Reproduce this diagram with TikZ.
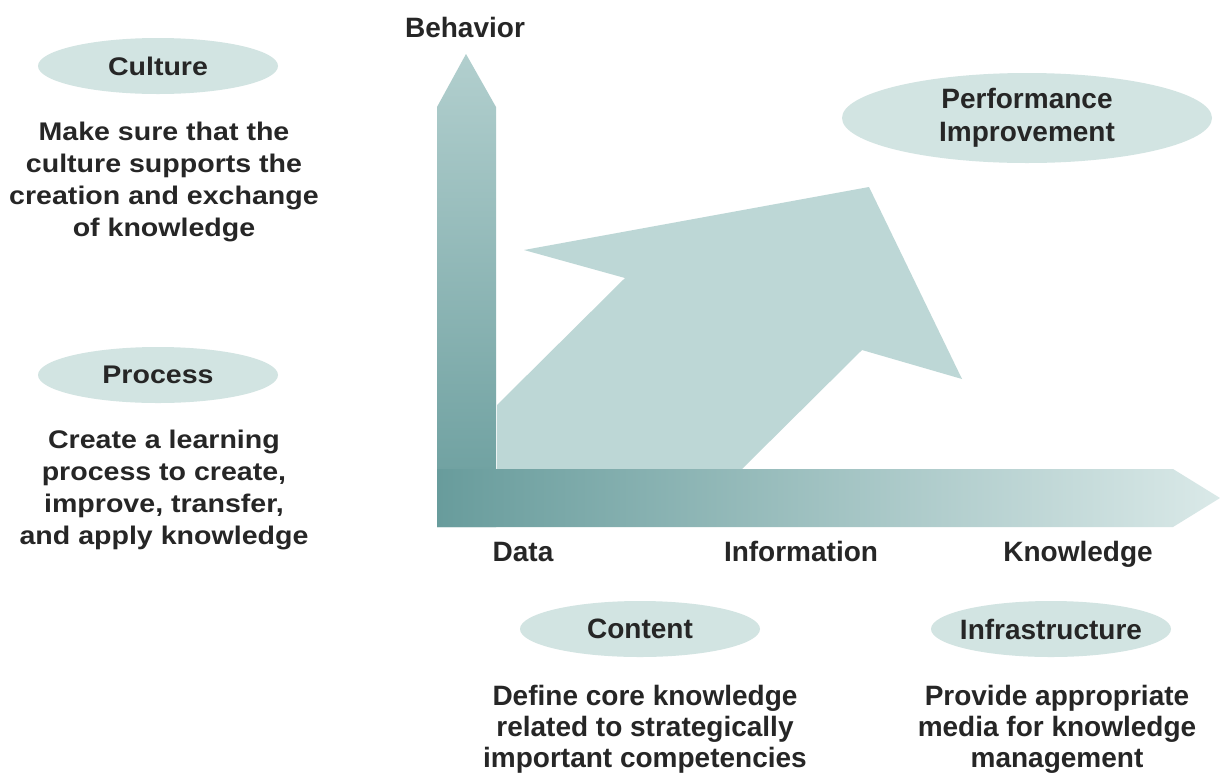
\documentclass[tikz,border=0pt]{standalone}
\usepackage{fontspec}
\setmainfont{Liberation Sans}
\newfontfamily\widefont{Liberation Sans}[FakeStretch=1.12]
\usetikzlibrary{shapes.geometric}

\definecolor{ink}{HTML}{262626}
\definecolor{bubble}{HTML}{D2E4E2}
\definecolor{arrowfill}{HTML}{BDD7D6}
\definecolor{axisdark}{HTML}{689C9C}
\definecolor{axismid}{HTML}{A9C9C8}
\definecolor{axislight}{HTML}{DAE9E8}
\definecolor{axistop}{HTML}{B2CFCE}

\begin{document}
\begin{tikzpicture}[x=1pt,y=-1pt,
  every node/.style={text=ink, font=\bfseries\fontsize{28}{31}\selectfont},
  widetext/.style={font=\widefont\bfseries\fontsize{25.5}{32}\selectfont},
  bubblenode/.style={ellipse, fill=bubble, inner sep=0pt, minimum width=240pt, minimum height=56pt},
  bodytext/.style={align=center, inner sep=0pt},
  axislabel/.style={inner sep=0pt, anchor=base}]

\useasboundingbox (0,0) rectangle (1221,772);
\fill[white] (0,0) rectangle (1221,772);

% rising arrow between the two axes
\fill[arrowfill] (497,405) -- (625,278) -- (524,250) -- (869,187)
  -- (962,379) -- (862,350) -- (742,469) -- (497,469) -- cycle;

% vertical axis
\shade[top color=axistop, middle color=axistop!85!axisdark, bottom color=axisdark]
  (437,527) -- (437,107) -- (466,54) -- (496,107) -- (496,527) -- cycle;

% horizontal axis
\shade[left color=axisdark, middle color=axismid, right color=axislight]
  (437,469) -- (1173,469) -- (1220,498) -- (1173,527) -- (437,527) -- cycle;

% axis labels
\node[axislabel] (behavior) at (465,37) {Behavior};
\node[axislabel] (data) at (523,561) {Data};
\node[axislabel] (information) at (801,561) {Information};
\node[axislabel] (knowledge) at (1078,561) {Knowledge};

% goal bubble
\node[bubblenode, minimum width=370pt, minimum height=90pt, align=center,
  font=\bfseries\fontsize{28}{33}\selectfont] (perf) at (1027,118)
  {Performance\\Improvement};

% the four building blocks
\node[bubblenode, label={[widetext]center:Culture}] (culture) at (158,66) {};
\node[bodytext, widetext] (culturetext) at (164,182)
  {Make sure that the\\culture supports the\\creation and exchange\\of knowledge};

\node[bubblenode, label={[widetext]center:Process}] (process) at (158,375) {};
\node[bodytext, widetext] (processtext) at (164,490)
  {Create a learning\\process to create,\\improve, transfer,\\and apply knowledge};

\node[bubblenode, label={center:Content}] (content) at (640,629) {};
\node[bodytext] (contenttext) at (645,729)
  {Define core knowledge\\related to strategically\\important competencies};

\node[bubblenode, label={center:Infrastructure}] (infra) at (1051,629) {};
\node[bodytext] (infratext) at (1057,729)
  {Provide appropriate\\media for knowledge\\management};

\end{tikzpicture}
\end{document}
